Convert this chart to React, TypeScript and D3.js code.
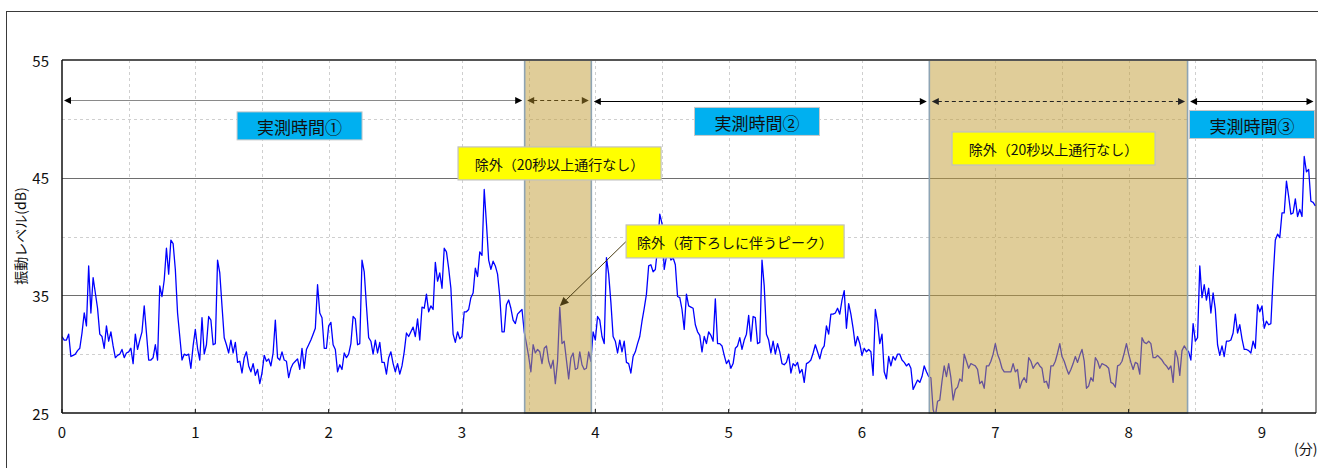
import React from 'react';
import * as d3 from 'd3';

// vibration level (dB), one sample per second, from t = 0 s
const dbValues = [
  31.5, 31.2, 31.2, 31.7, 29.8, 29.9, 30.0, 30.3, 30.5, 31.8,
  33.5, 32.4, 37.5, 33.5, 36.5, 35.2, 33.9, 31.7, 31.5, 30.5,
  32.4, 31.1, 31.9, 30.7, 29.7, 29.9, 30.0, 30.4, 29.7, 30.1,
  30.2, 30.5, 29.2, 31.7, 30.4, 31.2, 31.9, 34.1, 31.8, 29.5,
  29.5, 29.7, 30.8, 29.5, 35.8, 34.9, 36.3, 39.0, 36.8, 39.7,
  39.4, 37.2, 33.5, 31.5, 29.5, 30.0, 29.9, 30.0, 28.8, 30.7,
  32.1, 30.5, 29.5, 33.1, 30.0, 30.8, 33.2, 32.9, 30.8, 30.9,
  38.0, 36.9, 34.1, 31.4, 30.8, 30.1, 31.2, 30.1, 31.0, 29.3,
  29.4, 28.4, 29.7, 30.2, 29.0, 28.5, 29.2, 28.2, 28.7, 27.5,
  28.4, 29.9, 29.4, 29.6, 29.0, 30.1, 32.9, 29.7, 29.5, 30.2,
  29.5, 29.4, 28.0, 28.8, 29.2, 29.4, 29.6, 28.7, 30.5, 28.8,
  30.4, 30.8, 31.2, 31.7, 32.2, 35.9, 33.5, 33.1, 30.5, 30.5,
  32.4, 32.7, 30.8, 30.4, 28.5, 29.1, 28.7, 30.1, 29.7, 30.0,
  30.9, 33.2, 33.0, 30.8, 30.9, 38.0, 37.0, 34.1, 31.4, 31.1,
  30.0, 31.2, 30.1, 31.0, 29.3, 29.3, 28.3, 29.7, 30.2, 29.2,
  28.5, 29.2, 28.3, 29.0, 30.2, 31.8, 31.5, 31.9, 32.3, 31.5,
  33.0, 31.2, 34.0, 33.9, 35.1, 33.6, 34.1, 33.8, 37.8, 36.2,
  36.9, 35.6, 39.0, 38.7, 37.3, 35.6, 31.7, 31.0, 31.9, 31.3,
  31.5, 33.6, 33.6, 33.8, 34.8, 35.2, 37.3, 36.6, 38.7, 38.4,
  44.0, 41.1, 38.0, 37.2, 37.9, 37.5, 36.8, 34.9, 31.9, 31.9,
  34.2, 34.6, 33.9, 32.9, 32.6, 33.4, 33.6, 33.8, 31.9, 30.9,
  29.8, 28.5, 30.8, 30.1, 30.4, 30.2, 29.2, 30.5, 30.7, 29.4,
  28.8, 29.5, 27.5, 29.4, 34.0, 30.9, 31.1, 29.5, 27.9, 29.7,
  30.1, 28.7, 28.8, 30.2, 29.1, 28.7, 28.8, 30.2, 29.4, 31.9,
  31.2, 33.2, 32.9, 31.5, 30.9, 38.2, 36.8, 34.4, 31.5, 31.1,
  30.1, 31.2, 30.2, 31.1, 29.3, 29.2, 28.4, 29.8, 30.2, 30.9,
  31.5, 32.8, 33.9, 35.1, 37.5, 37.6, 37.0, 37.2, 39.0, 41.9,
  41.1, 37.2, 38.3, 38.7, 38.0, 38.2, 37.6, 34.9, 34.8, 33.8,
  32.1, 35.1, 34.1, 34.0, 33.9, 32.5, 31.9, 31.6, 30.2, 31.5,
  30.9, 31.9, 31.6, 31.1, 34.7, 30.9, 30.9, 30.7, 29.9, 29.2,
  29.5, 28.8, 29.2, 30.5, 30.7, 31.4, 30.4, 31.2, 31.7, 33.3,
  31.1, 33.2, 33.1, 30.9, 31.0, 38.0, 35.8, 31.7, 31.2, 30.1,
  31.1, 30.0, 30.9, 30.2, 29.2, 29.1, 29.3, 30.0, 28.4, 29.2,
  29.0, 29.3, 28.4, 28.7, 27.6, 29.2, 29.3, 29.5, 30.1, 30.8,
  30.2, 29.6, 30.4, 30.7, 32.4, 31.7, 33.4, 33.4, 33.5, 33.9,
  33.4, 34.6, 35.4, 32.2, 34.3, 33.4, 32.2, 30.7, 31.5, 30.9,
  29.9, 30.5, 30.2, 30.4, 30.2, 28.2, 33.8, 32.7, 30.9, 31.7,
  28.5, 27.9, 29.8, 29.0, 29.8, 29.5, 30.0, 30.0, 29.5, 29.3,
  29.0, 29.2, 28.8, 27.0, 27.4, 27.8, 27.6, 28.1, 29.0, 28.5,
  28.1, 28.0, 25.3, 24.7, 26.0, 26.1, 27.7, 29.0, 28.1, 29.2,
  28.0, 26.1, 27.0, 27.2, 27.9, 27.7, 30.0, 29.4, 28.8, 29.2,
  29.1, 29.0, 28.7, 27.5, 27.7, 27.1, 29.0, 29.0, 29.4, 30.0,
  30.9, 30.0, 29.5, 28.8, 28.5, 28.5, 28.5, 28.5, 29.2, 28.5,
  28.7, 27.1, 27.7, 28.0, 27.6, 29.7, 29.4, 28.8, 29.1, 29.3,
  29.0, 28.8, 27.6, 27.7, 27.1, 29.0, 29.0, 29.4, 30.1, 30.9,
  29.8, 29.4, 28.8, 28.3, 28.7, 29.2, 29.8, 29.3, 29.9, 30.4,
  29.4, 27.1, 27.3, 28.0, 27.7, 29.7, 29.4, 28.8, 29.2, 29.1,
  29.0, 28.8, 27.6, 27.5, 27.2, 29.0, 29.1, 29.4, 30.1, 30.9,
  30.0, 29.3, 28.7, 29.3, 29.2, 28.3, 31.4, 31.0, 30.9, 31.1,
  30.9, 29.7, 29.7, 29.9, 29.7, 29.5, 29.2, 29.0, 28.7, 29.0,
  27.6, 30.3, 29.7, 28.2, 30.3, 30.7, 30.4, 30.2, 29.5, 32.6,
  31.1, 31.4, 37.5, 34.8, 35.9, 34.6, 35.6, 33.5, 35.2, 33.8,
  30.8, 29.9, 30.7, 29.8, 31.1, 31.1, 31.2, 31.8, 33.4, 31.8,
  32.5, 31.3, 30.4, 30.4, 30.3, 30.1, 31.1, 30.5, 34.2, 33.6,
  34.1, 32.2, 32.8, 32.5, 32.6, 36.5, 39.7, 40.2, 39.9, 42.0,
  42.0, 44.7, 43.4, 41.9, 42.0, 43.2, 41.7, 42.3, 41.7, 46.8,
  45.5, 45.7, 43.0, 42.9, 42.6,
];

const timeEnd = 564.3; // seconds shown
const yTicks = [25, 35, 45, 55];
const ySolidGrid = [35, 45];
const yDashedGrid = [30, 40, 50];
const xTickMinutes = [0, 1, 2, 3, 4, 5, 6, 7, 8, 9];
const xDashedGridSeconds = [30, 60, 90, 120, 150, 180, 210, 240, 270, 300, 330, 360, 390, 420, 450, 480, 510, 540];

// excluded periods (seconds)
const excludedRanges: [number, number][] = [
  [208.2, 238.2],
  [390.3, 506.5],
];

// span arrows at the top: [start s, end s, style]
const spanStarts = [0, 208.2, 238.2, 390.3, 506.5];
const spanEnds = [208.2, 238.2, 390.3, 506.5, 564.3];
const spanStyles = ['grey', 'brown', 'black', 'dashed', 'black'];
const spanLevels = [51.6, 51.6, 51.48, 51.48, 51.48];

const measuredLabels = ['実測時間①', '実測時間②', '実測時間③'];
const measuredLabelAt: [number, number][] = [
  [106.9, 49.4],
  [312.75, 49.78],
  [535.5, 49.52],
];
const excludeLabels = ['除外（20秒以上通行なし）', '除外（20秒以上通行なし）', '除外（荷下ろしに伴うピーク）'];
const excludeLabelAt: [number, number][] = [
  [223.9, 46.21],
  [446.2, 47.48],
  [302.9, 39.58],
];
const excludeLabelWidths = [203, 203, 218];
const peakSecond = 224;

const FONT = "'Noto Sans CJK JP', 'Noto Sans', sans-serif";

export default function App() {
  const W = 1318;
  const H = 468;
  const left = 62;
  const right = 1316;
  const top = 60;
  const bottom = 413;

  const x = d3.scaleLinear().domain([0, timeEnd]).range([left, right]);
  const y = d3.scaleLinear().domain([25, 55]).range([bottom, top]);

  const line = d3
    .line<number>()
    .x((_, i) => x(i))
    .y((d) => y(d));
  const path = line(dbValues) || '';

  const arrowHead = (tipX: number, tipY: number, dir: number, color: string, key: string) => {
    const L = 7;
    const w = 3.5;
    return (
      <path
        key={key}
        d={`M${tipX},${tipY} L${tipX - dir * L},${tipY - w} L${tipX - dir * L},${tipY + w} Z`}
        fill={color}
      />
    );
  };

  // callout arrow geometry
  const callIdx = 2;
  const callLeft = x(excludeLabelAt[callIdx][0]) - excludeLabelWidths[callIdx] / 2;
  const callY = y(excludeLabelAt[callIdx][1]);
  const tipX = x(peakSecond);
  const tipY = y(dbValues[peakSecond]) - 1;
  const ang = Math.atan2(tipY - callY, tipX - callLeft);
  const ahL = 9;
  const ahW = 4;
  const bx = tipX - ahL * Math.cos(ang);
  const by = tipY - ahL * Math.sin(ang);
  const px = -Math.sin(ang) * ahW;
  const py = Math.cos(ang) * ahW;

  return (
    <svg
      width={W}
      height={H}
      style={{ position: 'absolute', left: 0, top: 0, background: '#fff' }}
      fontFamily={FONT}
    >
      <defs>
        <clipPath id="plotClip">
          <rect x={left} y={top} width={right - left} height={bottom - top} />
        </clipPath>
      </defs>
      <rect x={0} y={0} width={W} height={H} fill="#fff" />
      {/* outer chart frame */}
      <rect x={6.5} y={11.5} width={1400} height={600} fill="none" stroke="#3a3a3a" strokeWidth={1} />

      {/* dashed grid */}
      {xDashedGridSeconds.map((s) => (
        <line
          key={'vx' + s}
          x1={Math.round(x(s)) + 0.5}
          x2={Math.round(x(s)) + 0.5}
          y1={top}
          y2={bottom}
          stroke="#cfcfcf"
          strokeDasharray="3,3"
          strokeWidth={1}
        />
      ))}
      {yDashedGrid.map((v) => (
        <line
          key={'hy' + v}
          x1={left}
          x2={right}
          y1={Math.round(y(v)) + 0.5}
          y2={Math.round(y(v)) + 0.5}
          stroke="#cfcfcf"
          strokeDasharray="3,3"
          strokeWidth={1}
        />
      ))}
      {ySolidGrid.map((v) => (
        <line
          key={'sy' + v}
          x1={left}
          x2={right}
          y1={Math.round(y(v)) + 0.5}
          y2={Math.round(y(v)) + 0.5}
          stroke="#6e6e6e"
          strokeWidth={1}
        />
      ))}

      {/* data line */}
      <path d={path} fill="none" stroke="#0000ff" strokeWidth={1.3} clipPath="url(#plotClip)" strokeLinejoin="round" />

      {/* excluded periods */}
      {excludedRanges.map(([a, b], i) => (
        <g key={'ex' + i}>
          <rect x={x(a)} y={top} width={x(b) - x(a)} height={bottom - top} fill="#c4a03c" fillOpacity={0.52} />
          <rect
            x={x(a)}
            y={top}
            width={x(b) - x(a)}
            height={bottom - top}
            fill="none"
            stroke="#8ea4b4"
            strokeWidth={1.6}
          />
        </g>
      ))}

      {/* plot borders */}
      <line x1={left} x2={right} y1={top} y2={top} stroke="#555" strokeWidth={1.8} />
      <line x1={right} x2={right} y1={top} y2={bottom} stroke="#444" strokeWidth={1.2} />
      <line x1={left} x2={left} y1={top} y2={bottom} stroke="#111" strokeWidth={1.5} />
      <line x1={left} x2={right} y1={bottom} y2={bottom} stroke="#111" strokeWidth={1.5} />

      {/* x ticks */}
      {xTickMinutes.map((m) => (
        <g key={'xt' + m}>
          <line x1={x(m * 60)} x2={x(m * 60)} y1={bottom} y2={bottom - 4} stroke="#111" strokeWidth={1} />
          <text x={x(m * 60)} y={431} textAnchor="middle" dominantBaseline="central" fontSize={15} fill="#111">
            {m}
          </text>
        </g>
      ))}
      <text x={1294} y={448} dominantBaseline="central" fontSize={14} fill="#111">
        (分)
      </text>

      {/* y ticks */}
      {yTicks.map((v) => (
        <text key={'yt' + v} x={49} y={y(v)} textAnchor="end" dominantBaseline="central" fontSize={15} fill="#111">
          {v}
        </text>
      ))}
      <text
        transform={`translate(20,236) rotate(-90)`}
        textAnchor="middle"
        dominantBaseline="central"
        fontSize={14}
        fill="#111"
      >
        振動レベル(dB)
      </text>

      {/* span arrows */}
      {spanStarts.map((s, i) => {
        const x1 = x(s) + (i === 0 ? 2 : 2.5);
        const x2 = x(spanEnds[i]) - 2.5;
        const yy = Math.round(y(spanLevels[i])) + 0.5;
        const st = spanStyles[i];
        const color = st === 'grey' ? '#8a8a8a' : st === 'brown' ? '#5a4716' : st === 'dashed' ? '#222' : '#000';
        const head = st === 'grey' ? '#000' : color;
        const dashed = st === 'brown' || st === 'dashed';
        return (
          <g key={'sp' + i}>
            <line
              x1={x1 + 6}
              x2={x2 - 6}
              y1={yy}
              y2={yy}
              stroke={color}
              strokeWidth={1.2}
              strokeDasharray={dashed ? '4,3' : undefined}
            />
            {arrowHead(x1, yy, -1, head, 'l')}
            {arrowHead(x2, yy, 1, head, 'r')}
          </g>
        );
      })}

      {/* measured period labels */}
      {measuredLabels.map((t, i) => {
        const cx = x(measuredLabelAt[i][0]);
        const cy = y(measuredLabelAt[i][1]);
        return (
          <g key={'ml' + i}>
            <rect x={cx - 62.5} y={cy - 14} width={125} height={28} fill="#00b0f0" stroke="#c8c8c8" strokeWidth={1} />
            <text x={cx} y={cy + 1} textAnchor="middle" dominantBaseline="central" fontSize={17} fill="#111">
              {t}
            </text>
          </g>
        );
      })}

      {/* callout arrow */}
      <line x1={callLeft} y1={callY} x2={bx} y2={by} stroke="#4a3c14" strokeWidth={1} />
      <path d={`M${tipX},${tipY} L${bx + px},${by + py} L${bx - px},${by - py} Z`} fill="#4a3c14" />

      {/* exclusion labels */}
      {excludeLabels.map((t, i) => {
        const cx = x(excludeLabelAt[i][0]);
        const cy = y(excludeLabelAt[i][1]);
        const w = excludeLabelWidths[i];
        return (
          <g key={'el' + i}>
            <rect x={cx - w / 2} y={cy - 16.5} width={w} height={33} fill="#ffff00" stroke="#c0c0c0" strokeWidth={1.2} />
            <text x={cx} y={cy + 1} textAnchor="middle" dominantBaseline="central" fontSize={14} fill="#111">
              {t}
            </text>
          </g>
        );
      })}
    </svg>
  );
}
